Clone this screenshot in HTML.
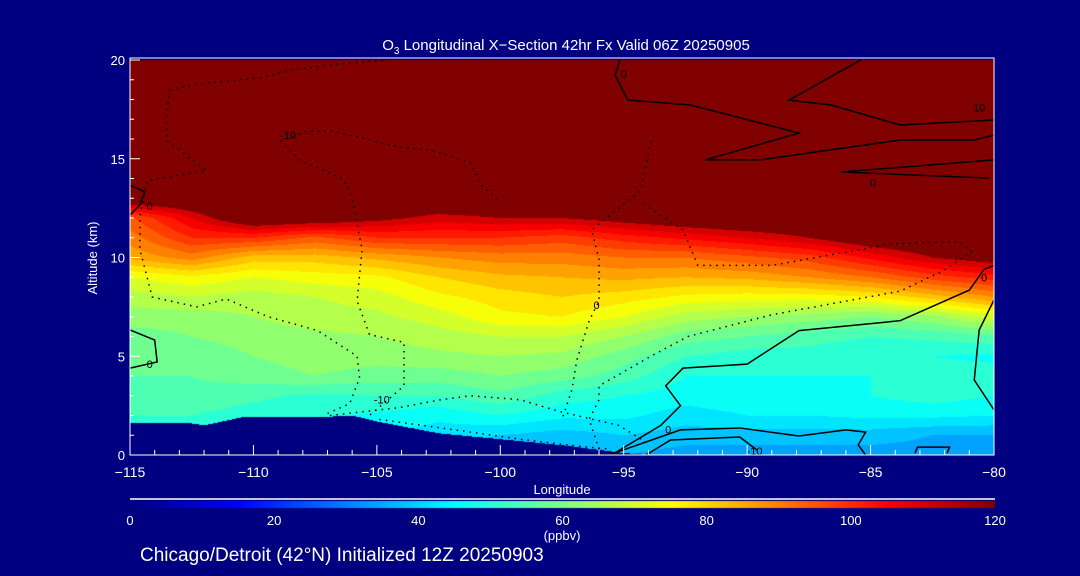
<!DOCTYPE html>
<html><head><meta charset="utf-8">
<style>
html,body{margin:0;padding:0;background:#000080;}
#wrap{position:relative;width:1080px;height:576px;background:#000080;overflow:hidden;font-family:"Liberation Sans",sans-serif;color:#fff;}
canvas{position:absolute;left:0;top:0;}
svg{position:absolute;left:0;top:0;}
</style></head>
<body>
<div id="wrap">
<canvas id="cv" width="1080" height="576"></canvas>
<svg id="sv" width="1080" height="576"></svg>
</div>
<script>
// ---- data ----
const lons = [-115,-112.5,-110,-107.5,-105,-102.5,-100,-97.5,-95,-92.5,-90,-87.5,-85,-82.5,-80];
const alts = [0,1,2,3,4,5,6,7,8,9,10,11,12,13,14,15,16,17,18,19,20];
const o3 = [
[40,40,40,40,40,40,35,34,36,34,34,34,34,34,34],
[48,48,46,46,44,42,40,38,40,38,38,38,38,36,36],
[52,52,50,49,47,45,48,45,45,42,44,44,45,45,44],
[54,55,53,51,52,52,55,50,48,46,47,47,48,50,48],
[56,56,58,60,58,58,60,58,54,48,48,48,48,50,50],
[56,57,60,62,62,63,64,63,58,52,50,50,48,48,47],
[58,60,62,63,64,66,68,68,64,58,56,54,52,53,55],
[62,62,64,66,67,70,75,76,72,66,64,62,60,63,70],
[66,68,66,68,70,75,78,80,78,75,74,74,76,82,88],
[72,75,72,74,75,80,83,84,85,84,85,88,92,98,102],
[85,90,82,82,85,88,90,90,92,92,95,98,105,112,116],
[90,100,100,95,100,100,100,98,102,105,108,112,118,120,120],
[95,108,120,118,114,110,112,112,115,118,120,120,120,120,120],
[120,120,120,120,120,120,120,120,120,120,120,120,120,120,120],
[120,120,120,120,120,120,120,120,120,120,120,120,120,120,120],
[120,120,120,120,120,120,120,120,120,120,120,120,120,120,120],
[120,120,120,120,120,120,120,120,120,120,120,120,120,120,120],
[120,120,120,120,120,120,120,120,120,120,120,120,120,120,120],
[120,120,120,120,120,120,120,120,120,120,120,120,120,120,120],
[120,120,120,120,120,120,120,120,120,120,120,120,120,120,120],
[120,120,120,120,120,120,120,120,120,120,120,120,120,120,120]];
const terrLon = [-115,-112.5,-112,-110.5,-107.5,-106,-105,-102.5,-100,-97.5,-95,-94,-80];
const terrAlt = [1.6,1.6,1.5,1.9,1.9,2.0,1.7,1.1,0.8,0.5,0.1,0,0];
const xTicks = [-115,-110,-105,-100,-95,-90,-85,-80];
const yTicks = [0,5,10,15,20];
const cbTicks = [0,20,40,60,80,100,120];
const solidContours = [
 [[-95.5,0],[-93.5,1.5],[-92.7,2.5],[-93.3,3.5],[-92.6,4.4],[-90,4.6],[-87.9,6.3],[-83.8,6.8],[-81,8.35],[-80.4,9.4],[-80,9.6]],
 [[-95.6,0],[-92.7,1.27],[-90.3,1.37],[-87.9,0.96],[-86,1.27],[-85.2,1.16],[-85.5,0.51],[-85.2,0]],
 [[-94.1,0],[-93.1,0.76],[-90.3,0.91],[-89.6,0.25]],
 [[-80,7.85],[-80.6,6.33],[-80.8,3.8],[-80,2.28]],
 [[-95.15,20],[-95.35,19.24],[-94.83,17.97],[-92.3,17.72],[-87.9,16.3],[-91.7,14.94],[-89.5,14.94],[-83.8,15.95],[-80.8,15.95],[-80,16.2]],
 [[-85.4,20],[-88.3,17.97],[-86.6,17.72],[-83.8,16.71],[-80,16.96]],
 [[-80,14.94],[-86.2,14.33],[-80.2,14.02]],
 [[-115,6.33],[-114,5.82],[-113.9,4.71],[-115,4.4]],
 [[-115,13.67],[-114.4,13.32],[-114.6,12.66],[-115,12.15]],
 [[-83.2,0.1],[-83.1,0.4],[-81.8,0.4],[-81.9,0.1]]
];
const dottedContours = [
 [[-113.4,18.5],[-112.2,18.8],[-109.7,19.1],[-108.4,19.5],[-106.5,19.8],[-104.5,20]],
 [[-113.4,18.5],[-113.5,17.3],[-113.5,15.9],[-111.9,14.4],[-114.3,13.9],[-114.6,12.1],[-114.6,10.4],[-114.1,8.0],[-112.3,7.5],[-111.1,7.9],[-109.4,7.0],[-107.4,6.3],[-105.8,5.0],[-105.7,3.9],[-106.1,2.6],[-107,2.1]],
 [[-108.9,15.9],[-107.8,16.4],[-106.8,16.4],[-104.1,15.6],[-102.7,15.4],[-101.2,14.8],[-100.8,13.7],[-100.1,12.9]],
 [[-108.9,15.9],[-108.1,14.9],[-107.3,14.5],[-106.4,14.0],[-106,13.1],[-105.6,10.4],[-105.8,7.8],[-105.3,6.1],[-103.9,5.7],[-103.9,3.5],[-105.3,2.0]],
 [[-93.9,15.9],[-94.3,13.4],[-96.3,11.4],[-96,9.9],[-96,7.8],[-96.4,6.8],[-96.9,4.8],[-97.1,3.3],[-97.5,1.8]],
 [[-94.2,12.7],[-92.6,11.4],[-92,9.6],[-89,9.6],[-84.1,10.7],[-81.4,10.8],[-80.9,10.3],[-82.1,9.3],[-83.8,8.3],[-89,7.1],[-92.4,6.0],[-93.9,5.0],[-96,3.5],[-96,2.8],[-96.4,1.8],[-96,0.3]],
 [[-106.9,2.0],[-104.1,2.4],[-102.4,2.8],[-101.2,3.0],[-99.2,2.8],[-97.6,2.2],[-95.2,1.5],[-93.9,0.5]],
 [[-104.9,1.8],[-102,1.3],[-99.2,0.8],[-97.2,0.5],[-95.6,0.3]]
];
const contourLabels = [["0",-114.2,12.6],["0",-114.2,4.6],["-10",-108.6,16.2],["-10",-104.8,2.8],["0",-96.1,7.6],["0",-93.2,1.3],["-10",-89.7,0.2],["0",-84.9,13.8],["0",-80.4,9.0],["10",-80.6,17.6],["0",-95,19.3]];

// ---- axes ----
const PX0=130, PX1=994, PY0=60, PY1=455;
const xs = lon => PX0 + (lon - lons[0])/(lons[lons.length-1]-lons[0])*(PX1-PX0);
const ys = a => PY1 - (a - 0)/20*(PY1-PY0);
const CB0=130, CB1=995;
const cbx = v => CB0 + v/120*(CB1-CB0);

function jet(v){
  const t=Math.max(0,Math.min(1,v/120));
  const c=x=>Math.round(255*Math.max(0,Math.min(1,x)));
  return [c(1.5-Math.abs(4*t-3)),c(1.5-Math.abs(4*t-2)),c(1.5-Math.abs(4*t-1))];
}
function interp1(xa,ya,x){
  if(x<=xa[0])return ya[0];
  for(let i=1;i<xa.length;i++){ if(x<=xa[i]){const f=(x-xa[i-1])/(xa[i]-xa[i-1]);return ya[i-1]+f*(ya[i]-ya[i-1]);} }
  return ya[ya.length-1];
}
function field(lon,a){
  let fi=(lon-lons[0])/2.5; fi=Math.max(0,Math.min(lons.length-1.0001,fi));
  let fj=a; fj=Math.max(0,Math.min(alts.length-1.0001,fj));
  const i=Math.floor(fi),j=Math.floor(fj),u=fi-i,w=fj-j;
  return o3[j][i]*(1-u)*(1-w)+o3[j][i+1]*u*(1-w)+o3[j+1][i]*(1-u)*w+o3[j+1][i+1]*u*w;
}
// ---- draw field ----
const cv=document.getElementById('cv'), ctx=cv.getContext('2d');
const img=ctx.createImageData(PX1-PX0, PY1-PY0);
for(let py=0;py<PY1-PY0;py++){
  for(let px=0;px<PX1-PX0;px++){
    const lon=lons[0]+(px+0.5)/(PX1-PX0)*35, a=20-(py+0.5)/(PY1-PY0)*20;
    let col;
    if(a<interp1(terrLon,terrAlt,lon)) col=[0,0,128];
    else { let v=field(lon,a); v=Math.floor(v/4)*4+2; if(v>=112)v=120; col=jet(v); }
    const k=(py*(PX1-PX0)+px)*4; img.data[k]=col[0];img.data[k+1]=col[1];img.data[k+2]=col[2];img.data[k+3]=255;
  }
}
ctx.putImageData(img,PX0,PY0);
// colorbar
for(let x=CB0;x<CB1;x++){ const c=jet((x-CB0)/(CB1-CB0)*120); ctx.fillStyle=`rgb(${c[0]},${c[1]},${c[2]})`; ctx.fillRect(x,501,1,7); }

// ---- svg overlay ----
const NS='http://www.w3.org/2000/svg', sv=document.getElementById('sv');
function mk(tag,attrs,parent){const e=document.createElementNS(NS,tag);for(const k in attrs)e.setAttribute(k,attrs[k]);(parent||sv).appendChild(e);return e;}
function txt(s,x,y,size,anchor,name){const t=mk('text',{x:x,y:y,'font-size':size,'text-anchor':anchor||'middle',fill:'#fff','font-family':'Liberation Sans, sans-serif'});t.textContent=s;return t;}

solidContours.forEach((c,i)=>{
  const p=mk('polyline',{points:c.map(q=>xs(q[0])+','+ys(q[1])).join(' '),fill:'none',stroke:'#000','stroke-width':1.5});
  
  
});
dottedContours.forEach(c=>{
  const p=mk('polyline',{points:c.map(q=>xs(q[0])+','+ys(q[1])).join(' '),fill:'none',stroke:'#000','stroke-width':1.5,'stroke-dasharray':'1.5 5'});
  
  
});
contourLabels.forEach(l=>{
  const t=mk('text',{x:xs(l[1]),y:ys(l[2])+4,'font-size':11,'text-anchor':'middle',fill:'#000','font-family':'Liberation Sans, sans-serif'});
  t.textContent=l[0];
  
  
});
// frame
const fr=mk('rect',{x:PX0,y:58,width:PX1-PX0,height:PY1-58,fill:'none',stroke:'#fff','stroke-width':1});


// x ticks
for(let v=-115;v<=-80;v++){
  const major=xTicks.includes(v);
  const l=mk('line',{x1:xs(v),x2:xs(v),y1:PY1,y2:PY1-(major?10:5),stroke:'#fff','stroke-width':1});
  
  
}
xTicks.forEach(v=>txt('\u2212'+Math.abs(v),xs(v),477,14,'middle','x-tick-label'));
for(let a=0;a<=20;a++){
  const major=yTicks.includes(a);
  const l=mk('line',{x1:PX0,x2:PX0+(major?10:4),y1:ys(a),y2:ys(a),stroke:'#fff','stroke-width':1});
  
  
}
yTicks.forEach(a=>txt(String(a),125,ys(a)+5,13,'end','y-tick-label'));
txt('Longitude',562,494,13,'middle','x-axis-title');
const yt=txt('Altitude (km)',0,0,13,'middle','y-axis-title');
yt.setAttribute('transform','translate(97,258) rotate(-90)');
// title
const tt=mk('text',{x:566,y:50,'font-size':15,'text-anchor':'middle',fill:'#fff','font-family':'Liberation Sans, sans-serif'});


tt.innerHTML='O<tspan font-size="10" dy="4">3</tspan><tspan dy="-4"> Longitudinal X\u2212Section 42hr  Fx Valid 06Z 20250905</tspan>';
// colorbar
const cl=mk('line',{x1:CB0,x2:CB1,y1:499,y2:499,stroke:'#fff','stroke-width':1.5});


cbTicks.forEach(v=>txt(String(v),cbx(v),525,13,'middle','colorbar-tick-label'));
txt('(ppbv)',562,540,13,'middle','colorbar-unit');
txt('Chicago/Detroit (42\u00b0N) Initialized 12Z 20250903',140,561,19,'start','subtitle');
</script>
</body></html>
